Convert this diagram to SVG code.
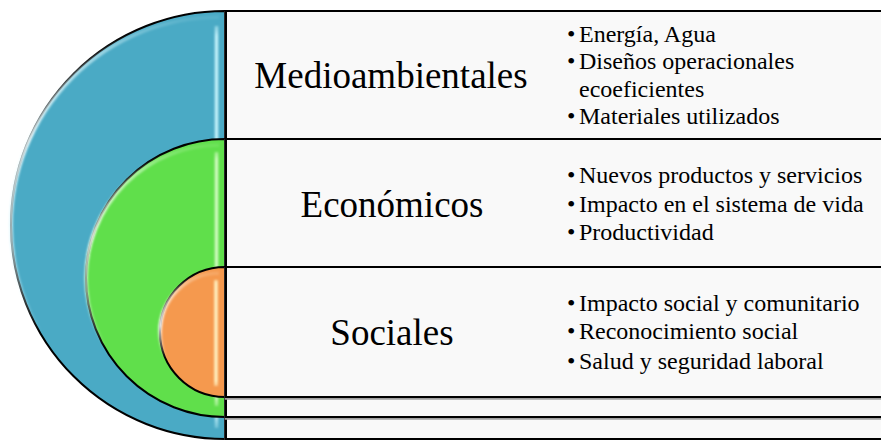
<svg xmlns="http://www.w3.org/2000/svg" width="881" height="440" viewBox="0 0 881 440">
  <defs>
    <linearGradient id="hlB" gradientUnits="userSpaceOnUse" x1="0" y1="11" x2="0" y2="439">
      <stop offset="0" stop-color="#d8f6fc" stop-opacity="0"/>
      <stop offset="0.1" stop-color="#d8f6fc" stop-opacity="0.6"/>
      <stop offset="0.3" stop-color="#f0fdff" stop-opacity="1"/>
      <stop offset="0.55" stop-color="#d8f6fc" stop-opacity="0.8"/>
      <stop offset="0.75" stop-color="#d8f6fc" stop-opacity="0"/>
    </linearGradient>
    <linearGradient id="hlG" gradientUnits="userSpaceOnUse" x1="0" y1="139" x2="0" y2="417">
      <stop offset="0" stop-color="#e0ffd8" stop-opacity="0"/>
      <stop offset="0.12" stop-color="#e0ffd8" stop-opacity="0.6"/>
      <stop offset="0.35" stop-color="#f4fff0" stop-opacity="1"/>
      <stop offset="0.55" stop-color="#e0ffd8" stop-opacity="0.7"/>
      <stop offset="0.75" stop-color="#e0ffd8" stop-opacity="0"/>
    </linearGradient>
    <linearGradient id="hlO" gradientUnits="userSpaceOnUse" x1="0" y1="267" x2="0" y2="397">
      <stop offset="0" stop-color="#fff0dc" stop-opacity="0"/>
      <stop offset="0.2" stop-color="#fff0dc" stop-opacity="0.7"/>
      <stop offset="0.45" stop-color="#ffffff" stop-opacity="1"/>
      <stop offset="0.7" stop-color="#fff0dc" stop-opacity="0"/>
    </linearGradient>
    <linearGradient id="vB" gradientUnits="userSpaceOnUse" x1="0" y1="15" x2="0" y2="435">
      <stop offset="0" stop-color="#c8f4fc" stop-opacity="0"/>
      <stop offset="0.05" stop-color="#c8f4fc" stop-opacity="0.95"/>
      <stop offset="0.95" stop-color="#c8f4fc" stop-opacity="0.95"/>
      <stop offset="1" stop-color="#c8f4fc" stop-opacity="0"/>
    </linearGradient>
    <linearGradient id="vG" gradientUnits="userSpaceOnUse" x1="0" y1="143" x2="0" y2="413">
      <stop offset="0" stop-color="#d4fcc4" stop-opacity="0"/>
      <stop offset="0.06" stop-color="#d4fcc4" stop-opacity="0.95"/>
      <stop offset="0.94" stop-color="#d4fcc4" stop-opacity="0.95"/>
      <stop offset="1" stop-color="#d4fcc4" stop-opacity="0"/>
    </linearGradient>
    <linearGradient id="vO" gradientUnits="userSpaceOnUse" x1="0" y1="271" x2="0" y2="393">
      <stop offset="0" stop-color="#fff0c0" stop-opacity="0"/>
      <stop offset="0.1" stop-color="#fff0c0" stop-opacity="1"/>
      <stop offset="0.9" stop-color="#fff0c0" stop-opacity="1"/>
      <stop offset="1" stop-color="#fff0c0" stop-opacity="0"/>
    </linearGradient>
    <filter id="soft" filterUnits="userSpaceOnUse" x="0" y="0" width="881" height="440">
      <feGaussianBlur stdDeviation="0.9"/>
    </filter>
  </defs>
  <style>
    .box { fill: #f9f9f9; stroke: #000; stroke-width: 2; }
    .shadow { fill: none; stroke: #a0a0a0; stroke-width: 2.5; }
    .disk { stroke: #000; stroke-width: 2; }
    .hl { fill: none; stroke-width: 3.5; filter: url(#soft); }
    text { font-family: "Times New Roman", "Liberation Serif", Tinos, "DejaVu Serif", serif; fill: #000; }
    .title { font-size: 37px; text-anchor: middle; }
    .item { font-size: 24px; }
  </style>

  <g id="node-medioambientales">
    <path class="disk" d="M225,11 A214,214 0 0 0 225,439 Z" fill="#4aaac5"/>
    <path class="hl" d="M219,17 A208,208 0 0 0 219,433" stroke="url(#hlB)"/>
    <path class="hl" d="M216.5,26 L216.5,428" stroke="url(#vB)"/>
    <rect x="226" y="12.5" width="660" height="428" class="shadow"/>
    <rect x="226" y="11" width="660" height="428" class="box"/>
    <text class="title" x="391" y="88">Medioambientales</text>
    <text class="item" x="567" y="41.7">•</text>
    <text class="item" x="579" y="41.7">Energía, Agua</text>
    <text class="item" x="567" y="69.3">•</text>
    <text class="item" x="579" y="69.3">Diseños operacionales</text>
    <text class="item" x="579" y="96.5">ecoeficientes</text>
    <text class="item" x="567" y="124">•</text>
    <text class="item" x="579" y="124">Materiales utilizados</text>
  </g>

  <g id="node-economicos">
    <path class="disk" d="M225,139 A139,139 0 0 0 225,417 Z" fill="#60df4b"/>
    <path class="hl" d="M219,145 A133,133 0 0 0 219,411" stroke="url(#hlG)"/>
    <path class="hl" d="M216.5,152 L216.5,406" stroke="url(#vG)"/>
    <rect x="226" y="140.5" width="660" height="278" class="shadow"/>
    <rect x="226" y="139" width="660" height="278" class="box"/>
    <text class="title" x="392" y="216.7">Económicos</text>
    <text class="item" x="567" y="183.3">•</text>
    <text class="item" x="579" y="183.3">Nuevos productos y servicios</text>
    <text class="item" x="567" y="211.7">•</text>
    <text class="item" x="579" y="211.7">Impacto en el sistema de vida</text>
    <text class="item" x="567" y="240">•</text>
    <text class="item" x="579" y="240">Productividad</text>
  </g>

  <g id="node-sociales">
    <path class="disk" d="M225,267 A65,65 0 0 0 225,397 Z" fill="#f5994e"/>
    <path class="hl" d="M219,273 A59,59 0 0 0 219,391" stroke="url(#hlO)"/>
    <path class="hl" d="M216,280 L216,386" stroke="url(#vO)"/>
    <rect x="226" y="268.5" width="660" height="130" class="shadow"/>
    <rect x="226" y="267" width="660" height="130" class="box"/>
    <text class="title" x="392" y="345">Sociales</text>
    <text class="item" x="567" y="310.5">•</text>
    <text class="item" x="579" y="310.5">Impacto social y comunitario</text>
    <text class="item" x="567" y="339.3">•</text>
    <text class="item" x="579" y="339.3">Reconocimiento social</text>
    <text class="item" x="567" y="369.3">•</text>
    <text class="item" x="579" y="369.3">Salud y seguridad laboral</text>
  </g>

  <g id="connectors"></g>
</svg>
